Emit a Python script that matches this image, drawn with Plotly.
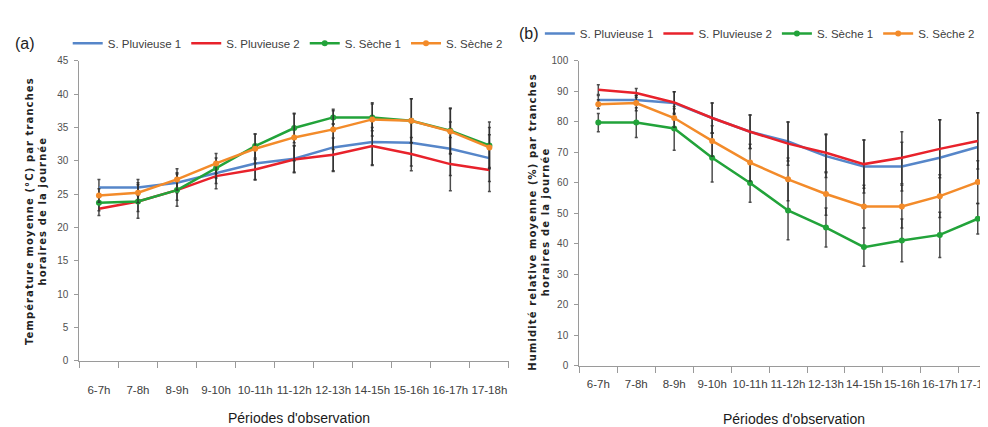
import plotly.graph_objects as go

periods = ["6-7h", "7-8h", "8-9h", "9-10h", "10-11h", "11-12h",
           "12-13h", "14-15h", "15-16h", "16-17h", "17-18h"]
series_names = ["S. Pluvieuse 1", "S. Pluvieuse 2", "S. Sèche 1", "S. Sèche 2"]

# (a) Temperature (°C)
temp_pluv1 = [26.0, 26.0, 26.7, 28.2, 29.6, 30.3, 32.0, 32.8, 32.7, 31.8, 30.4]
temp_pluv2 = [22.8, 23.9, 25.6, 27.7, 28.7, 30.2, 30.9, 32.2, 31.0, 29.5, 28.6]
temp_seche1 = [23.7, 23.9, 25.6, 28.9, 32.2, 34.9, 36.5, 36.5, 36.0, 34.5, 32.3]
temp_seche2 = [24.8, 25.2, 27.2, 29.6, 31.8, 33.5, 34.7, 36.2, 36.0, 34.4, 32.0]
temp_err_pluv1 = [1.2, 1.2, 1.5, 1.6, 2.5, 2.0, 3.5, 3.5, 3.5, 4.0, 3.5]
temp_err_pluv2 = [1.0, 2.5, 1.5, 1.9, 1.5, 2.0, 2.5, 2.8, 2.5, 4.0, 3.2]
temp_err_seche1 = [1.2, 1.5, 2.4, 1.5, 1.8, 2.2, 1.0, 2.0, 3.3, 3.4, 3.5]
temp_err_seche2 = [1.0, 1.5, 1.6, 1.5, 2.2, 3.5, 3.0, 2.5, 3.3, 3.4, 3.0]

# (b) Relative humidity (%)
hum_pluv1 = [87.1, 87.1, 86.1, 81.2, 76.7, 73.5, 68.7, 65.3, 65.3, 68.2, 71.7]
hum_pluv2 = [90.5, 89.4, 86.3, 81.2, 76.7, 72.8, 69.8, 66.1, 68.2, 71.1, 73.7]
hum_seche1 = [79.7, 79.7, 77.8, 68.2, 59.9, 50.9, 45.3, 38.9, 41.1, 42.9, 48.2]
hum_seche2 = [85.7, 86.1, 81.2, 73.7, 66.6, 61.1, 56.3, 52.2, 52.2, 55.6, 60.2]
hum_err_pluv1 = [1.5, 1.5, 3.7, 4.9, 5.5, 6.4, 7.0, 8.7, 8.0, 12.4, 11.2]
hum_err_pluv2 = [1.6, 1.5, 3.5, 4.9, 5.5, 7.1, 6.2, 7.9, 8.5, 9.5, 9.2]
hum_err_seche1 = [3.0, 4.9, 7.2, 8.0, 6.3, 9.6, 6.4, 6.3, 7.0, 7.4, 5.0]
hum_err_seche2 = [1.5, 2.5, 3.0, 5.0, 6.0, 7.0, 7.0, 7.0, 7.0, 7.0, 7.0]

colors = ["#5686c9", "#e8222b", "#22a33a", "#f38b2a"]
has_marker = [False, False, True, True]

SANS = "Liberation Sans, Arial, sans-serif"
BOLD = "DejaVu Sans, Verdana, sans-serif"
W, H = 988, 427

fig = go.Figure()

panels = [
    ("x", "y", "legend",
     [temp_pluv1, temp_pluv2, temp_seche1, temp_seche2],
     [temp_err_pluv1, temp_err_pluv2, temp_err_seche1, temp_err_seche2]),
    ("x2", "y2", "legend2",
     [hum_pluv1, hum_pluv2, hum_seche1, hum_seche2],
     [hum_err_pluv1, hum_err_pluv2, hum_err_seche1, hum_err_seche2]),
]

for xa, ya, lg, vals, errs in panels:
    for name, v, e, c, mk in zip(series_names, vals, errs, colors, has_marker):
        fig.add_trace(go.Scatter(
            x=periods, y=v, name=name, xaxis=xa, yaxis=ya, legend=lg,
            mode="lines+markers" if mk else "lines",
            line=dict(color=c, width=2.5),
            marker=dict(color=c, size=6, symbol="circle"),
            error_y=dict(type="data", array=e, visible=True,
                         color="rgba(45,45,45,0.85)", thickness=1.5, width=1.5),
            hoverinfo="x+y+name",
        ))

xcommon = dict(type="category", tickson="boundaries", ticks="outside", ticklen=6,
               tickcolor="#9a9a9a", showline=True, linecolor="#9a9a9a", linewidth=1.2,
               showgrid=False, zeroline=False, tickangle=0,
               tickfont=dict(family=SANS, size=11.5, color="#404040"))
ycommon = dict(ticks="outside", ticklen=4, tickcolor="#9a9a9a", showline=True,
               linecolor="#9a9a9a", linewidth=1.2, showgrid=False, zeroline=False,
               ticklabelstandoff=4,
               tickfont=dict(family=SANS, size=10, color="#505050"))

fig.update_layout(
    width=W, height=H, margin=dict(l=0, r=0, t=0, b=0),
    paper_bgcolor="white", plot_bgcolor="white",
    xaxis=dict(domain=[72 / W, 505 / W], range=[-0.5, 10.5], anchor="y",
               ticklabelstandoff=18, **xcommon),
    yaxis=dict(domain=[(H - 357) / H, (H - 48) / H], range=[0, 45], dtick=5,
               anchor="x", **ycommon),
    xaxis2=dict(domain=[576 / W, 1.0], range=[-0.5, 10.27], anchor="y2",
                ticklabelstandoff=7, **xcommon),
    yaxis2=dict(domain=[(H - 362) / H, (H - 48) / H], range=[0, 100], dtick=10,
                anchor="x2", **ycommon),
    legend=dict(orientation="h", x=282 / W, xanchor="center", y=1 - 30 / H,
                yanchor="middle", font=dict(family=SANS, size=11.5, color="#404040"),
                itemwidth=30, bgcolor="rgba(0,0,0,0)"),
    legend2=dict(orientation="h", x=758 / W, xanchor="center", y=1 - 20 / H,
                 yanchor="middle", font=dict(family=SANS, size=11.5, color="#404040"),
                 itemwidth=30, bgcolor="rgba(0,0,0,0)"),
    showlegend=True,
)

LS = "letter-spacing:1.1px"
ann = [
    dict(text="(a)", x=17 / W, y=1 - 30 / H, font=dict(family=SANS, size=16, color="#222")),
    dict(text="(b)", x=525 / W, y=1 - 20 / H, font=dict(family=SANS, size=16, color="#222")),
    dict(text=f"<span style='{LS}'><b>Température moyenne (°C) par tranches</b></span><br>"
              f"<span style='{LS}'><b>horaires de la journée</b></span>",
         x=29 / W, y=1 - 203 / H, textangle=-90,
         font=dict(family=BOLD, size=10, color="#222")),
    dict(text=f"<span style='{LS}'><b>Humidité relative moyenne (%) par tranches</b></span><br>"
              f"<span style='{LS}'><b>horaires de la journée</b></span>",
         x=535 / W, y=1 - 214 / H, textangle=-90,
         font=dict(family=BOLD, size=10, color="#222")),
    dict(text="Périodes d'observation", x=293 / W, y=1 - 416 / H,
         font=dict(family=SANS, size=14, color="#1a1a1a")),
    dict(text="Périodes d'observation", x=792 / W, y=1 - 417 / H,
         font=dict(family=SANS, size=14, color="#1a1a1a")),
]
for a in ann:
    a.update(xref="paper", yref="paper", showarrow=False, xanchor="center", yanchor="middle")
fig.update_layout(annotations=ann)

fig.write_html("out.html")
